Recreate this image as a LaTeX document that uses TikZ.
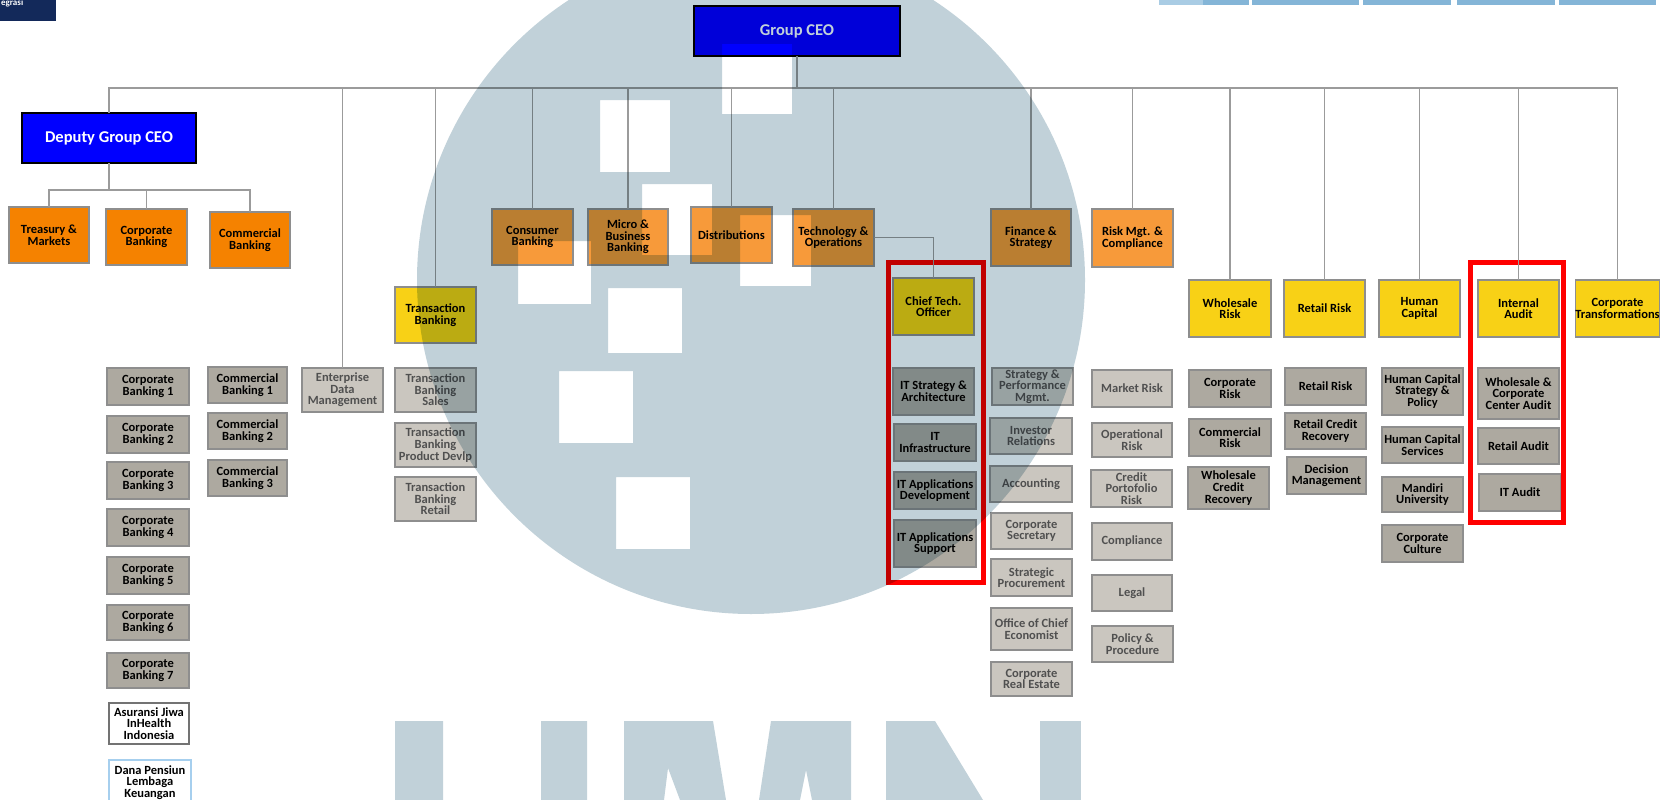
\documentclass[tikz,border=0pt]{standalone}
\usepackage{fontspec}
\setmainfont{Carlito}
\definecolor{orA}{HTML}{F58200}
\definecolor{orB}{HTML}{F79A3A}
\definecolor{yel}{HTML}{F8D116}
\definecolor{gD}{HTML}{ADA9A0}
\definecolor{gL}{HTML}{CAC6BF}
\definecolor{bdr}{HTML}{8E8E8E}
\definecolor{lnc}{HTML}{9B9B9B}
\definecolor{navy}{HTML}{13295A}
\definecolor{wm}{HTML}{C1D1D9}
\definecolor{barc}{HTML}{84B5D7}
\definecolor{barl}{HTML}{A9CCE4}
\definecolor{tgrey}{HTML}{505050}
\definecolor{dpbl}{HTML}{A6CFEE}
\tikzset{
 base/.style={draw=bdr, line width=1.4, inner sep=0pt, outer sep=0pt, align=center,
   font=\bfseries\fontsize{12.5}{11.6}\selectfont, text=black},
 ora/.style={base, fill=orA},
 orb/.style={base, fill=orB},
 yb/.style={base, fill=yel},
 gd/.style={base, fill=gD},
 gl/.style={base, fill=gL, text=tgrey},
 wb/.style={base, fill=white, draw=black!55},
 wbb/.style={base, fill=white, draw=dpbl},
 bb/.style={base, fill=blue, draw=black, text=white, font=\bfseries\fontsize{16.5}{18}\selectfont},
 hl/.style={draw=red, line width=5, inner sep=0pt, outer sep=0pt},
 conn/.style={draw=lnc, line width=1.6},
}
\newcommand\ob[7]{\node[#1, minimum width={(#5-#3)*1pt}, minimum height={(#6-#4)*1pt}] (#2) at ({(#3+#5)/2},{(#4+#6)/2}) {#7};}
\begin{document}
\begin{tikzpicture}[x=1pt,y=-1pt]
\useasboundingbox (0,0) rectangle (1678,800);
\fill[white] (0,0) rectangle (1678,800);
% top fragments
\fill[navy] (0,0) rectangle (56,21);
\node[anchor=base west, inner sep=0pt, text=white, font=\bfseries\fontsize{9}{9}\selectfont] (tl) at (1,6) {egrasi};
\fill[barl] (1159,0) rectangle (1203,5);
\fill[barc] (1203,0) rectangle (1249,5);
\fill[barc] (1252,0) rectangle (1359,5);
\fill[barc] (1363,0) rectangle (1451,5);
\fill[barc] (1457,0) rectangle (1555,5);
\fill[barc] (1559,0) rectangle (1656,5);
% top level
\ob{bb}{ceo}{694}{6}{900}{56}{Group CEO}
\ob{bb}{dep}{22}{113}{196}{163}{Deputy Group CEO}
\ob{ora}{tre}{9}{207}{89}{263}{Treasury \&\\Markets}
\ob{ora}{cbk}{106}{209}{187}{265}{Corporate\\Banking}
\ob{ora}{cmb}{210}{212}{290}{268}{Commercial\\Banking}
\ob{gl}{edm}{302}{368}{383}{412}{Enterprise\\Data\\Management}
\ob{yb}{trb}{395}{287}{476}{343}{Transaction\\Banking}
\ob{orb}{con}{492}{209}{573}{265}{Consumer\\Banking}
\ob{orb}{mic}{588}{209}{668}{265}{Micro \&\\Business\\Banking}
\ob{orb}{dis}{691}{207}{772}{263}{Distributions}
\ob{orb}{tec}{793}{209}{874}{266}{Technology \&\\Operations}
\ob{orb}{fin}{991}{209}{1071}{266}{Finance \&\\Strategy}
\ob{orb}{rsk}{1092}{209}{1173}{267}{Risk Mgt. \&\\Compliance}
\ob{yb}{cto}{893}{278}{974}{335}{Chief Tech.\\Officer}
\ob{yb}{whr}{1189}{280}{1271}{337}{Wholesale\\Risk}
\ob{yb}{rtr}{1284}{280}{1365}{337}{Retail Risk}
\ob{yb}{hcp}{1379}{280}{1460}{337}{Human\\Capital}
\ob{yb}{iau}{1478}{280}{1559}{337}{Internal\\Audit}
\ob{yb}{ctr}{1577}{280}{1658}{337}{Corporate\\Transformations}
% corporate banking units
\ob{gd}{cb1}{107}{368}{189}{405}{Corporate\\Banking 1}
\ob{gd}{cb2}{107}{416}{189}{453}{Corporate\\Banking 2}
\ob{gd}{cb3}{107}{462}{189}{499}{Corporate\\Banking 3}
\ob{gd}{cb4}{107}{509}{189}{546}{Corporate\\Banking 4}
\ob{gd}{cb5}{107}{557}{189}{594}{Corporate\\Banking 5}
\ob{gd}{cb6}{107}{605}{189}{640}{Corporate\\Banking 6}
\ob{gd}{cb7}{107}{653}{189}{688}{Corporate\\Banking 7}
\ob{wb}{asj}{109}{703}{189}{744}{Asuransi Jiwa\\InHealth\\Indonesia}
\ob{wbb}{dpl}{109}{760}{191}{805}{Dana Pensiun\\Lembaga\\Keuangan}
\ob{gd}{cm1}{208}{367}{287}{403}{Commercial\\Banking 1}
\ob{gd}{cm2}{208}{413}{287}{449}{Commercial\\Banking 2}
\ob{gd}{cm3}{208}{460}{287}{496}{Commercial\\Banking 3}
% transaction banking
\ob{gl}{tb1}{395}{368}{476}{412}{Transaction\\Banking\\Sales}
\ob{gl}{tb2}{395}{423}{476}{467}{Transaction\\Banking\\Product Devlp}
\ob{gl}{tb3}{395}{477}{476}{521}{Transaction\\Banking\\Retail}
% CTO
\ob{gd}{ita}{893}{368}{974}{415}{IT Strategy \&\\Architecture}
\ob{gd}{iti}{894}{424}{976}{461}{IT\\Infrastructure}
\ob{gd}{itd}{894}{472}{976}{509}{IT Applications\\Development}
\ob{gd}{its}{894}{520}{976}{567}{IT Applications\\Support}
% finance
\ob{gl}{spm}{992}{368}{1073}{405}{Strategy \&\\Performance\\Mgmt.}
\ob{gl}{inv}{990}{418}{1072}{454}{Investor\\Relations}
\ob{gl}{acc}{990}{466}{1072}{502}{Accounting}
\ob{gl}{csc}{991}{513}{1072}{549}{Corporate\\Secretary}
\ob{gl}{spr}{991}{559}{1072}{596}{Strategic\\Procurement}
\ob{gl}{oce}{991}{608}{1072}{650}{Office of Chief\\Economist}
\ob{gl}{cre}{991}{662}{1072}{696}{Corporate\\Real Estate}
% risk mgt
\ob{gl}{mkr}{1092}{370}{1172}{407}{Market Risk}
\ob{gl}{opr}{1092}{423}{1172}{457}{Operational\\Risk}
\ob{gl}{cpr}{1091}{470}{1172}{507}{Credit\\Portofolio\\Risk}
\ob{gl}{cmp}{1092}{523}{1172}{560}{Compliance}
\ob{gl}{leg}{1092}{575}{1172}{611}{Legal}
\ob{gl}{pol}{1092}{626}{1173}{662}{Policy \&\\Procedure}
% wholesale risk
\ob{gd}{crk}{1189}{370}{1271}{407}{Corporate\\Risk}
\ob{gd}{cmr}{1189}{419}{1271}{456}{Commercial\\Risk}
\ob{gd}{wcr}{1188}{467}{1269}{509}{Wholesale\\Credit\\Recovery}
% retail risk
\ob{gd}{rr1}{1285}{368}{1366}{405}{Retail Risk}
\ob{gd}{rcr}{1285}{413}{1366}{449}{Retail Credit\\Recovery}
\ob{gd}{dcm}{1287}{457}{1366}{494}{Decision\\Management}
% human capital
\ob{gd}{hcs}{1382}{368}{1463}{415}{Human Capital\\Strategy \&\\Policy}
\ob{gd}{hsv}{1382}{427}{1463}{463}{Human Capital\\Services}
\ob{gd}{mun}{1382}{477}{1463}{512}{Mandiri\\University}
\ob{gd}{ccu}{1382}{525}{1463}{562}{Corporate\\Culture}
% internal audit
\ob{gd}{wca}{1478}{368}{1559}{419}{Wholesale \&\\Corporate\\Center Audit}
\ob{gd}{rau}{1478}{428}{1559}{464}{Retail Audit}
\ob{gd}{itau}{1479}{474}{1561}{511}{IT Audit}
% highlight frames
\ob{hl}{hlA}{888}{262}{983}{582}{}
\ob{hl}{hlB}{1470}{262}{1563}{522}{}
% connectors
\coordinate (bus) at (0,88);
\coordinate (dbus) at (0,190);
\draw[conn] (dep.north) |- (ctr.north |- bus) -- (ctr.north);
\foreach \n in {edm,trb,con,mic,dis,tec,fin,rsk,whr,rtr,hcp,iau}
  \draw[conn] (\n.north) -- (\n.north |- bus);
\draw[conn] (ceo.south) -- (ceo.south |- bus);
\draw[conn] (dep.south) -- (dep.south |- dbus);
\draw[conn] (tre.north) |- (cmb.north |- dbus) -- (cmb.north);
\draw[conn] (cbk.north) -- (cbk.north |- dbus);
\draw[conn] (tec.east) -| (cto.north);
% watermark
\begin{scope}[blend mode=multiply]
\fill[wm, even odd rule] (751,280) circle[radius=334pt]
 (722,44) rectangle (792,114)
 (600,100) rectangle (670,172)
 (642,184) rectangle (712,255)
 (740,215) rectangle (811,286)
 (518,241) rectangle (591,304)
 (608,288) rectangle (682,353)
 (559,371) rectangle (633,443)
 (616,477) rectangle (690,549);
\fill[wm] (395,721) rectangle (443,800) (541,721) rectangle (587,800);
\fill[wm] (624,721) -- (713,721) -- (726,800) -- (680,800) -- (668,768) -- (664,800) -- (624,800) -- cycle;
\fill[wm] (771,721) -- (851,721) -- (851,800) -- (812,800) -- (806,770) -- (800,800) -- (759,800) -- cycle;
\fill[wm] (886,721) -- (935,721) -- (983,800) -- (886,800) -- cycle;
\fill[wm] (1040,721) rectangle (1081,800);
\end{scope}
\end{tikzpicture}
\end{document}
